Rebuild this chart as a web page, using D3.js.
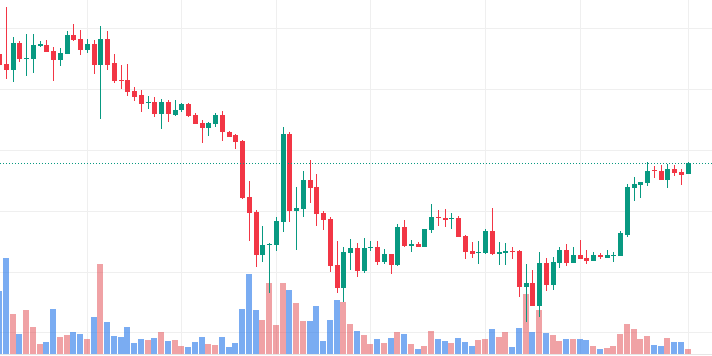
<!DOCTYPE html>
<html>
<head>
<meta charset="utf-8">
<script src="https://cdn.jsdelivr.net/npm/d3@7"></script>
<style>
html,body{margin:0;padding:0;background:#fff;overflow:hidden;}
svg{display:block;}
</style>
</head>
<body>
<div id="chart"></div>
<script>
// ---- data ----
const open = [135.82,134.13,133.14,137.58,135.00,134.95,137.09,137.30,136.32,134.79,
135.82,138.95,138.19,136.48,137.42,134.01,138.24,134.29,131.50,131.50,
129.69,129.03,127.71,127.88,125.91,127.88,125.74,126.56,127.55,125.74,
124.43,123.60,124.26,125.74,122.94,122.45,121.46,112.25,109.79,102.71,
104.36,104.36,108.14,122.62,109.95,110.28,115.05,113.90,109.62,108.64,
101.07,97.29,103.04,103.87,100.08,103.87,104.03,101.56,102.88,101.07,
107.32,104.19,104.52,104.03,106.83,108.96,108.80,108.64,108.80,105.84,
103.37,103.04,103.04,106.66,102.88,103.04,103.37,103.37,97.45,98.11,
94.33,101.40,97.78,101.40,103.54,101.40,102.71,102.22,101.73,102.71,
102.22,102.55,102.55,106.00,113.73,114.23,114.56,116.69,116.53,115.05,
116.86,116.37,116.04];
const high = [140.10,143.45,138.57,137.86,139.11,139.11,137.96,138.08,136.88,136.81,
139.56,140.71,139.72,138.19,138.08,140.43,139.56,135.82,134.01,134.13,
130.35,129.85,128.87,128.70,128.37,128.21,128.21,127.71,127.71,126.07,
124.92,124.59,126.07,126.40,123.11,122.62,121.63,114.89,110.12,107.48,
104.69,108.96,123.77,122.94,113.90,116.53,118.34,116.04,109.95,108.96,
105.02,104.03,105.35,104.69,105.51,105.02,105.02,103.70,102.88,107.81,
108.47,105.18,104.85,106.99,111.10,110.12,110.28,109.62,109.13,106.00,
104.85,105.02,106.99,110.44,104.85,104.69,104.03,103.54,101.23,100.25,
103.21,102.22,102.39,104.03,104.52,104.03,105.18,103.54,103.21,103.04,
103.54,103.21,106.66,114.39,115.54,114.72,118.01,117.35,117.52,117.68,
117.52,116.86,118.01];
const low = [131.05,131.66,131.22,134.51,132.20,132.60,136.97,136.15,131.38,133.85,
135.82,137.86,135.61,135.99,132.48,125.13,133.14,131.05,130.02,128.87,
128.04,126.23,126.73,125.41,123.44,124.59,125.58,126.23,125.41,124.26,
121.14,122.29,123.77,121.46,122.12,120.15,111.93,105.02,100.74,101.56,
96.46,103.37,106.50,108.14,103.54,108.96,111.27,107.48,106.83,99.92,
96.46,94.98,100.25,99.10,99.75,103.37,101.07,101.23,99.59,100.91,
104.03,103.21,104.03,104.03,106.33,107.48,107.32,106.99,105.68,102.06,
102.22,101.23,102.88,102.71,101.07,101.07,102.06,95.81,91.69,94.33,
92.52,96.79,96.96,100.58,100.91,101.40,102.06,101.23,101.73,102.06,
102.22,101.56,102.55,105.68,111.60,112.09,114.06,115.38,115.05,113.73,
115.71,114.23,116.04];
const close = [134.01,133.14,137.58,134.90,135.12,137.30,137.37,136.15,134.79,135.99,
138.90,138.08,136.48,137.42,134.01,138.24,134.01,131.38,131.38,129.52,
128.70,127.55,127.88,125.91,127.88,125.91,126.56,127.55,125.58,124.26,
123.60,124.43,125.74,122.94,122.12,121.30,112.09,109.62,102.71,104.36,
104.52,108.31,122.62,109.95,110.44,115.05,113.73,109.46,108.47,100.91,
97.29,103.21,103.87,100.08,103.87,104.03,101.56,102.88,101.07,107.32,
104.19,104.52,104.03,106.99,108.96,108.80,108.47,108.80,105.68,103.21,
102.88,103.21,106.66,102.88,103.21,103.37,103.21,97.45,98.11,94.33,
101.40,97.78,101.56,103.54,101.40,102.71,102.06,101.73,102.71,102.39,
102.71,102.71,106.33,113.90,114.39,114.72,116.53,116.53,115.05,116.86,
116.20,115.87,117.85];
const volume = [630,960,400,200,440,270,100,120,450,170,
190,220,200,150,370,900,320,180,170,270,
110,150,140,160,220,130,140,80,70,120,
170,100,90,170,70,110,450,800,440,340,
710,290,710,640,510,330,330,480,130,340,
540,520,300,230,190,100,150,110,160,220,
200,100,50,80,230,150,130,110,160,120,
80,140,150,250,170,220,70,260,600,220,
440,210,190,130,150,150,150,140,80,50,
60,80,200,300,250,150,180,90,80,160,
120,120,50];
const gridPrices = [90, 100, 110, 120, 130, 140];
const gridBars = [13, 27, 41, 55, 72, 86, 102];

// ---- styles ----
const W = 712, H = 356;
const UP = "#089981", DOWN = "#F23645";
const VOL_UP = "rgba(226,70,75,0.5)", VOL_DOWN = "rgba(41,121,234,0.62)";
const GRID = "#efefef";

const idx = d3.range(open.length);
const x = d3.scaleLinear().domain([0, open.length - 1]).range([-0.35, 688.15]);
const y = d3.scaleLinear().domain([90, 140]).range([332.3, 28.3]);
const vy = d3.scaleLinear().domain([0, d3.max(volume)]).range([354, 258]);

const svg = d3.select("#chart").append("svg")
  .attr("width", W).attr("height", H)
  .attr("shape-rendering", "crispEdges");

svg.append("rect").attr("width", W).attr("height", H).attr("fill", "#fff");

// grid
const g = svg.append("g");
g.selectAll("line.h").data(gridPrices).join("line")
  .attr("x1", 0).attr("x2", W)
  .attr("y1", d => Math.round(y(d)) + 0.5).attr("y2", d => Math.round(y(d)) + 0.5)
  .attr("stroke", GRID).attr("stroke-width", 1);
g.selectAll("line.v").data(gridBars).join("line")
  .attr("y1", 0).attr("y2", 354)
  .attr("x1", d => Math.round(x(d) - 2.5) + 2.5).attr("x2", d => Math.round(x(d) - 2.5) + 2.5)
  .attr("stroke", GRID).attr("stroke-width", 1);
// bottom border
svg.append("line").attr("x1", 0).attr("x2", W).attr("y1", 354.5).attr("y2", 354.5)
  .attr("stroke", "#e6e6e6").attr("stroke-width", 1);

// volume
svg.append("g").selectAll("rect").data(idx).join("rect")
  .attr("x", i => Math.round(x(i) - 2.5) - 1)
  .attr("width", 6)
  .attr("y", i => Math.round(vy(volume[i])))
  .attr("height", i => 354 - Math.round(vy(volume[i])))
  .attr("fill", i => close[i] > open[i] ? VOL_UP : VOL_DOWN);

// candles
const c = svg.append("g").selectAll("g").data(idx).join("g");
c.append("rect")
  .attr("x", i => Math.round(x(i) - 2.5) + 2)
  .attr("width", 1)
  .attr("y", i => Math.round(y(high[i])))
  .attr("height", i => Math.max(1, Math.round(y(low[i])) - Math.round(y(high[i]))))
  .attr("fill", i => close[i] >= open[i] ? UP : DOWN);
c.append("rect")
  .attr("x", i => Math.round(x(i) - 2.5))
  .attr("width", 5)
  .attr("y", i => Math.round(y(Math.max(open[i], close[i]))))
  .attr("height", i => Math.max(1, Math.round(y(Math.min(open[i], close[i]))) - Math.round(y(Math.max(open[i], close[i])))))
  .attr("fill", i => close[i] >= open[i] ? UP : DOWN);

// last price line (dotted)
const last = close[close.length - 1];
const lastUp = close[close.length - 1] >= open[open.length - 1];
svg.append("line")
  .attr("x1", 0).attr("x2", W)
  .attr("y1", Math.round(y(last)) + 0.5).attr("y2", Math.round(y(last)) + 0.5)
  .attr("stroke", lastUp ? UP : DOWN)
  .attr("stroke-width", 1)
  .attr("stroke-dasharray", "1,2")
  .attr("shape-rendering", "auto");
</script>
</body>
</html>
